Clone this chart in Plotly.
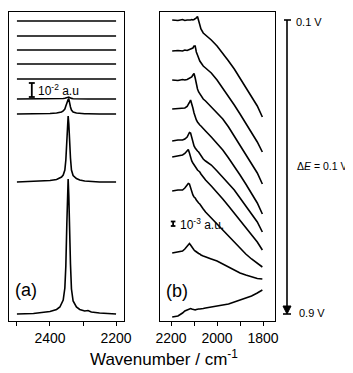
import plotly.graph_objects as go

# ---------------- data ----------------
potentials = ["0.1 V", "0.2 V", "0.3 V", "0.4 V", "0.5 V", "0.6 V", "0.7 V", "0.8 V", "0.9 V"]

# Panel (a): CO2 region (offset absorbance, arb. units; 14 units = 1e-2 a.u.)
wn_a = [2500, 2450, 2400, 2380, 2370, 2365, 2360, 2355, 2352, 2349, 2347, 2345,
        2343, 2341, 2338, 2335, 2330, 2320, 2310, 2295, 2285, 2275, 2250, 2200]
offset_a = [300, 285, 271, 257, 242, 222, 207, 139, 7]
a_01 = [0] * 24
a_02 = [0] * 24
a_03 = [0] * 24
a_04 = [0] * 24
a_05 = [0, 0, 0, 0, 0, 0, 0, 0.2, 0.3, 0.4, 0.5, 0.5, 0.5, 0.4, 0.3, 0.2, 0, 0, 0, 0, 0, 0, 0, 0]
a_06 = [0, 0, 0, 0, 0.2, 0.3, 0.5, 0.8, 1.2, 1.6, 2, 2.2, 2, 1.6, 1, 0.6, 0.3, 0.1, 0, 0, 0, 0, 0, 0]
a_07 = [0, 0, 0.5, 1, 1.5, 2, 3, 5, 8, 11, 13.5, 14.5, 15, 11, 7, 4, 2, 1, 0.5, 0.3, 0.2, 0, 0, 0]
a_08 = [0, 0.5, 1.5, 2.5, 4, 5, 7, 12, 22, 42, 58, 66, 58, 42, 24, 12, 6.5, 3.5, 2, 1, 0.8, 0.5, 0, 0]
a_09 = [0, 0.5, 2.5, 4.5, 7, 10, 14, 26, 48, 90, 120, 135, 118, 85, 50, 25, 13, 7, 4.5, 3, 3.5, 2, 1, 0]
profiles_a = [a_01, a_02, a_03, a_04, a_05, a_06, a_07, a_08, a_09]

# Panel (b): CO region (offset absorbance, arb. units; 4.5 units = 1e-3 a.u.)
wn_b = [2195, 2170, 2150, 2140, 2130, 2125, 2120, 2115, 2110, 2105, 2100, 2095, 2090,
        2085, 2080, 2075, 2070, 2060, 2050, 2025, 2000, 1975, 1950, 1925, 1900, 1875,
        1850, 1825, 1803]
b_01 = [301, 300.5, 301.5, 300.5, 301, 301, 300.5, 301, 301.5, 301, 301.5, 302, 303, 304.5,
        300, 295, 292, 288, 286, 281, 275, 268, 260, 252, 243, 234, 225, 215, 204]
b_02 = [270, 270.5, 270, 271, 270.5, 271, 271, 271.5, 272, 273, 275, 275, 269, 265, 263,
        260, 258, 255, 253, 248, 241, 233, 225, 216, 207, 198, 189, 179, 169]
b_03 = [241, 240.5, 241.5, 241, 241.5, 242, 242.5, 243, 244, 246, 247.5, 243, 237, 232,
        229, 227, 225, 222, 220, 214, 209, 202, 194, 185, 176, 167, 158, 148, 137]
b_04 = [212, 212.5, 213, 213, 214.5, 216, 218.5, 221, 218, 213, 208, 204, 201, 199, 197,
        196, 195, 192, 190, 184, 178, 171, 163, 155, 146, 137, 128, 118, 107]
b_05 = [180, 181, 181, 182, 184, 186, 188.5, 188, 183, 178, 175, 173, 171, 170, 169, 167,
        165, 162, 160, 156, 150, 144, 137, 131, 123, 115, 107, 99, 89]
b_06 = [164, 165, 166, 167.5, 171, 171.5, 168, 163, 160, 158, 156, 155, 153, 151, 150, 149,
        147, 144, 141, 135, 129, 122, 115, 108, 101, 94, 87, 79, 71]
b_07 = [130, 131, 131, 133, 136, 137.5, 137, 133, 129, 126, 124, 123, 121, 119, 118, 117,
        115, 112, 109, 103, 96, 90, 84, 78, 72, 67, 62, 58, 54]
b_08 = [68, 69, 70, 72, 75, 76.5, 77.5, 76, 74, 72.5, 71, 70, 69, 68, 67.5, 67, 66, 65, 64,
        62, 60, 57, 54, 51, 48, 46, 44, 42.5, 42]
b_09 = [4, 5, 8, 10, 11, 11.5, 12, 12.5, 12, 11.5, 11, 11, 11.5, 12, 12, 12, 12, 12.5, 13,
        14, 15, 16, 17, 19, 21, 23, 25, 28, 31]
spectra_b = [b_01, b_02, b_03, b_04, b_05, b_06, b_07, b_08, b_09]

ticks_a = [2400, 2200]
minor_a = [2500, 2300]
ticks_b = [2200, 2000, 1800]
minor_b = [2100, 1900]

scale_a = 14    # units for 1e-2 a.u.
scale_b = 4.5   # units for 1e-3 a.u.

# ---------------- figure ----------------
FONT = "Liberation Sans, Arial, sans-serif"
LINE = dict(color="black", width=1.6)
fig = go.Figure()

for pot, off, prof in zip(potentials, offset_a, profiles_a):
    fig.add_trace(go.Scatter(x=wn_a, y=[off + v for v in prof], mode="lines",
                             line=LINE, name=pot, xaxis="x", yaxis="y",
                             showlegend=False))
for pot, spec in zip(potentials, spectra_b):
    fig.add_trace(go.Scatter(x=wn_b, y=spec, mode="lines", line=LINE, name=pot,
                             xaxis="x2", yaxis="y2", showlegend=False))

# page body has an 8 px margin: figure occupies the page from (8, 8)
OFF = 8
W, H = 353 - OFF, 373 - OFF
def px(x):
    return (x - OFF) / W
def py(y):
    return 1 - (y - OFF) / H

ydom = [py(321), py(12)]
axis_common = dict(showline=True, linecolor="black", linewidth=1.3, mirror=True,
                   showgrid=False, zeroline=False)
tick_style = dict(ticks="outside", ticklen=4, tickwidth=1.3, tickcolor="black")
fig.update_layout(
    width=W, height=H, margin=dict(l=0, r=0, t=0, b=0, autoexpand=False),
    paper_bgcolor="white", plot_bgcolor="white",
    font=dict(family=FONT, color="black"),
    xaxis=dict(domain=[px(9), px(124)], range=[2524, 2176], tickmode="array",
               tickvals=ticks_a, tickfont=dict(size=14, family=FONT), anchor="y",
               minor=dict(tickmode="array", tickvals=minor_a, **tick_style),
               **tick_style, **axis_common),
    yaxis=dict(domain=ydom, range=[0, 309], showticklabels=False, ticks="",
               anchor="x", **axis_common),
    xaxis2=dict(domain=[px(160), px(275)], range=[2248, 1748], tickmode="array",
                tickvals=ticks_b, tickfont=dict(size=14, family=FONT), anchor="y2",
                minor=dict(tickmode="array", tickvals=minor_b, **tick_style),
                **tick_style, **axis_common),
    yaxis2=dict(domain=ydom, range=[0, 309], showticklabels=False, ticks="",
                anchor="x2", **axis_common),
)

shapes = []
# scale bar (a)
sa_x, sa_y = 2455, 224
shapes += [
    dict(type="line", xref="x", yref="y", x0=sa_x, x1=sa_x, y0=sa_y, y1=sa_y + scale_a),
    dict(type="line", xref="x", yref="y", x0=sa_x - 9, x1=sa_x + 9, y0=sa_y, y1=sa_y),
    dict(type="line", xref="x", yref="y", x0=sa_x - 9, x1=sa_x + 9, y0=sa_y + scale_a, y1=sa_y + scale_a),
]
# scale bar (b)
sb_x, sb_y = 2191, 95
shapes += [
    dict(type="line", xref="x2", yref="y2", x0=sb_x, x1=sb_x, y0=sb_y, y1=sb_y + scale_b),
    dict(type="line", xref="x2", yref="y2", x0=sb_x - 10, x1=sb_x + 10, y0=sb_y, y1=sb_y),
    dict(type="line", xref="x2", yref="y2", x0=sb_x - 10, x1=sb_x + 10, y0=sb_y + scale_b, y1=sb_y + scale_b),
]
for s in shapes:
    s["line"] = dict(color="black", width=1.8)

# potential arrow on the right
arrow = [
    dict(type="line", xref="paper", yref="paper", x0=px(287), x1=px(287), y0=py(20), y1=py(308)),
    dict(type="line", xref="paper", yref="paper", x0=px(284), x1=px(291), y0=py(20), y1=py(20)),
    dict(type="line", xref="paper", yref="paper", x0=px(283), x1=px(291), y0=py(314), y1=py(314)),
]
for s in arrow:
    s["line"] = dict(color="black", width=1.6)
arrow.append(dict(type="path", xref="paper", yref="paper",
                  path=f"M {px(283)} {py(306)} L {px(291)} {py(306)} L {px(287)} {py(314)} Z",
                  fillcolor="black", line=dict(color="black", width=1)))
fig.update_layout(shapes=shapes + arrow)

ann = [
    dict(text="10<sup>-2</sup> a.u", x=2442, y=231, xref="x", yref="y", xanchor="left",
         yanchor="middle", showarrow=False, font=dict(size=12)),
    dict(text="10<sup>-3</sup> a.u.", x=2170, y=97, xref="x2", yref="y2", xanchor="left",
         yanchor="middle", showarrow=False, font=dict(size=12)),
    dict(text="(a)", x=px(13), y=py(290), xref="paper", yref="paper", xanchor="left",
         yanchor="middle", showarrow=False, font=dict(size=18)),
    dict(text="(b)", x=px(164), y=py(291), xref="paper", yref="paper", xanchor="left",
         yanchor="middle", showarrow=False, font=dict(size=18)),
    dict(text="0.1 V", x=px(294), y=py(22), xref="paper", yref="paper", xanchor="left",
         yanchor="middle", showarrow=False, font=dict(size=11)),
    dict(text="Δ<i>E</i> = 0.1 V", x=px(350), y=py(166), xref="paper", yref="paper",
         xanchor="right", yanchor="middle", showarrow=False, font=dict(size=10.5)),
    dict(text="0.9 V", x=px(297), y=py(313), xref="paper", yref="paper", xanchor="left",
         yanchor="middle", showarrow=False, font=dict(size=11)),
    dict(text="Wavenumber / cm<sup>-1</sup>", x=px(164), y=py(358), xref="paper",
         yref="paper", xanchor="center", yanchor="middle", showarrow=False,
         font=dict(size=17)),
]
fig.update_layout(annotations=ann)

fig.write_html("out.html")
